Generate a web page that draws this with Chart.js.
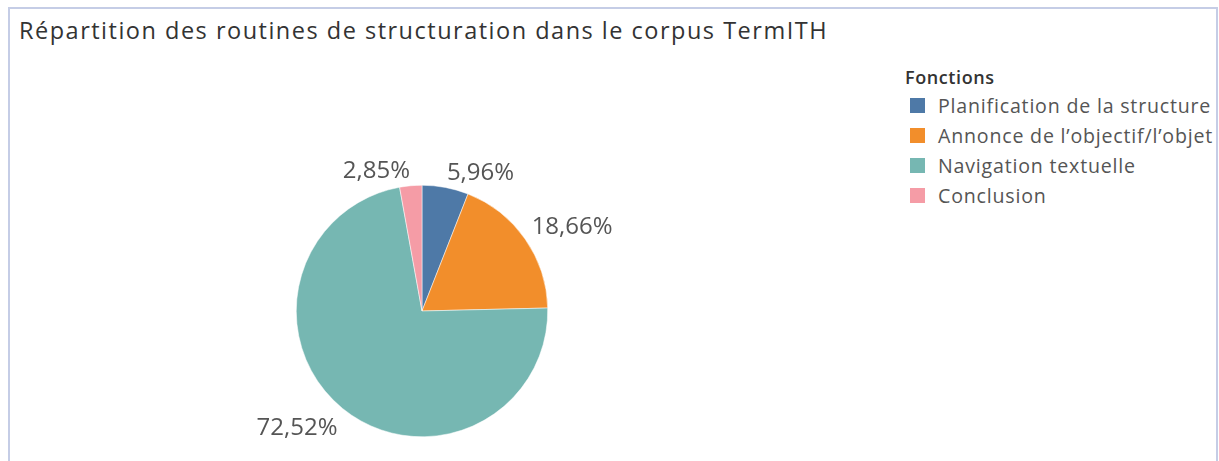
<!DOCTYPE html>
<html>
<head>
<meta charset="utf-8">
<script src="https://cdn.jsdelivr.net/npm/chart.js@4.4.1/dist/chart.umd.min.js"></script>
<style>
  html, body { margin: 0; padding: 0; background: #fff; width: 1219px; height: 461px; overflow: hidden; }
  #frame { position: absolute; left: 8px; top: 7px; width: 1210px; height: 470px; border: 2px solid #c5cde6; border-bottom: none; box-sizing: border-box; }
  #title { position: absolute; left: 19px; top: 14px; font-family: "Open Sans", sans-serif; font-size: 23.5px; line-height: normal; letter-spacing: 1.5px; color: #333; white-space: nowrap; }
  #legend { position: absolute; left: 905px; top: 65px; font-family: "Open Sans", sans-serif; color: #555; }
  #legend .lt { font-size: 18px; line-height: normal; font-weight: 600; letter-spacing: 0.6px; color: #333; margin-bottom: 1px; }
  #legend .it { display: flex; align-items: center; height: 30px; font-size: 19.6px; line-height: normal; letter-spacing: 0.8px; white-space: nowrap; }
  #legend .sw { width: 15px; height: 15px; margin-left: 5px; margin-right: 13px; }
  #wrap { position: absolute; left: 0; top: 0; width: 1219px; height: 461px; }
</style>
</head>
<body>
<div id="frame"></div>
<div id="title"></div>
<div id="legend"></div>
<div id="wrap"><canvas id="c"></canvas></div>
<script>
const chartTitle = "Répartition des routines de structuration dans le corpus TermITH";
const legendTitle = "Fonctions";
const categories = ["Planification de la structure", "Annonce de l\u2019objectif/l\u2019objet", "Navigation textuelle", "Conclusion"];
const values = [5.96, 18.66, 72.52, 2.85];
const labels = ["5,96%", "18,66%", "72,52%", "2,85%"];
const colors = ["#4e79a7", "#f28e2b", "#76b7b2", "#f59ca6"];

document.getElementById('title').textContent = chartTitle;

// HTML legend from the arrays
const lg = document.getElementById('legend');
const lt = document.createElement('div'); lt.className = 'lt'; lt.textContent = legendTitle; lg.appendChild(lt);
categories.forEach((c, i) => {
  const it = document.createElement('div'); it.className = 'it';
  const sw = document.createElement('span'); sw.className = 'sw'; sw.style.background = colors[i];
  const tx = document.createElement('span'); tx.textContent = c;
  it.appendChild(sw); it.appendChild(tx); lg.appendChild(it);
});

const outsideLabels = {
  id: 'outsideLabels',
  afterDatasetsDraw(chart) {
    const ctx = chart.ctx;
    const meta = chart.getDatasetMeta(0);
    ctx.save();
    ctx.font = '24px "Open Sans", sans-serif';
    ctx.fillStyle = '#555';
    ctx.textBaseline = 'alphabetic';
    meta.data.forEach((arc, i) => {
      const p = arc.getProps(['x', 'y', 'startAngle', 'endAngle', 'outerRadius'], true);
      const mid = (p.startAngle + p.endAngle) / 2;
      const r = p.outerRadius + 8;
      const px = p.x + Math.cos(mid) * r;
      const py = p.y + Math.sin(mid) * r;
      ctx.textAlign = Math.cos(mid) >= 0 ? 'left' : 'right';
      const dy = Math.sin(mid) < 0 ? 0 : 20;
      ctx.fillText(labels[i], px, py + dy);
    });
    ctx.restore();
  }
};

new Chart(document.getElementById('c'), {
  type: 'pie',
  data: {
    labels: categories,
    datasets: [{
      data: values,
      backgroundColor: colors,
      borderColor: '#ffffff',
      borderWidth: 0.5
    }]
  },
  options: {
    responsive: true,
    maintainAspectRatio: false,
    animation: false,
    layout: { padding: { left: 296, top: 185, right: 671, bottom: 24 } },
    plugins: {
      legend: { display: false },
      tooltip: { enabled: false },
      title: { display: false }
    }
  },
  plugins: [outsideLabels]
});
</script>
</body>
</html>
